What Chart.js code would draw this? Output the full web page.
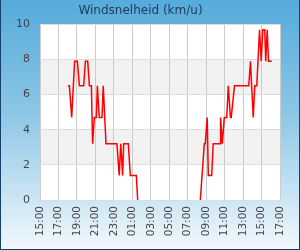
<!DOCTYPE html>
<html>
<head>
<meta charset="utf-8">
<script src="https://cdn.jsdelivr.net/npm/chart.js@4.4.1/dist/chart.umd.min.js"></script>
<style>
  html, body { margin: 0; padding: 0; }
  #wrap {
    width: 300px; height: 250px; box-sizing: border-box;
    border: 1px solid #15416b; border-top: none;
    background: linear-gradient(to bottom, #55abdb 0%, #8cc6e6 45%, #f1f8fc 100%);
  }
  #chart { display: block; }
</style>
</head>
<body>
<div id="wrap"><canvas id="chart" width="298" height="249"></canvas></div>
<script>
// minutes since 15:00 on day one, wind speed in km/u (null = no data)
const minutes = [182, 191, 206, 225, 243, 256, 284, 295, 310, 321, 334, 342, 353, 366, 373,
  385, 403, 411, 429, 500, 515, 525, 537, 544, 574, 587, 626, 635, 800,
  1042, 1068, 1074, 1087, 1094, 1116, 1126, 1170, 1174, 1185, 1198, 1214, 1224, 1238, 1243,
  1264, 1357, 1368, 1386, 1396, 1409, 1427, 1438, 1448, 1461, 1467, 1477, 1485, 1506];
const speeds = [6.5, 6.5, 4.7, 7.9, 7.9, 6.5, 6.5, 7.9, 7.9, 6.5, 6.5, 3.2, 4.7, 4.7, 6.5,
  4.7, 4.7, 6.5, 3.2, 3.2, 1.4, 3.2, 1.4, 3.2, 3.2, 1.4, 1.4, 0, null,
  0, 3.2, 3.2, 4.7, 1.4, 1.4, 3.2, 3.2, 4.7, 3.2, 4.7, 4.7, 6.5, 4.7, 4.7,
  6.5, 6.5, 7.9, 4.7, 6.5, 6.5, 9.7, 7.9, 9.7, 9.7, 7.9, 9.7, 7.9, 7.9];
const startHour = 15;
const yTicks = [0, 2, 4, 6, 8, 10];

// Background bands in the plot area
const bands = {
  id: 'bands',
  beforeDraw(chart) {
    const { ctx, chartArea: a, scales } = chart;
    ctx.save();
    ctx.fillStyle = '#ffffff';
    ctx.fillRect(a.left, a.top, a.right - a.left, a.bottom - a.top);
    ctx.fillStyle = '#f2f2f2';
    for (let i = 1; i < yTicks.length - 1; i += 2) {
      const y1 = scales.y.getPixelForValue(yTicks[i + 1]);
      const y0 = scales.y.getPixelForValue(yTicks[i]);
      ctx.fillRect(a.left, y1, a.right - a.left, y0 - y1);
    }
    ctx.restore();
  }
};

new Chart(document.getElementById('chart'), {
  type: 'line',
  data: {
    datasets: [{
      data: minutes.map((m, i) => ({ x: m, y: speeds[i] })),
      borderColor: '#ff0000',
      borderWidth: 1.5,
      pointRadius: 0,
      tension: 0,
      spanGaps: false
    }]
  },
  options: {
    responsive: false,
    animation: false,
    layout: { padding: { left: 0, right: 19, top: 0, bottom: 0 } },
    plugins: {
      legend: { display: false },
      tooltip: { enabled: false },
      title: {
        display: true,
        text: 'Windsnelheid (km/u)',
        color: '#1e3a58',
        font: { family: 'DejaVu Sans', size: 12, weight: 'normal' },
        padding: { top: 4, bottom: 6 }
      }
    },
    scales: {
      x: {
        type: 'linear',
        min: 0,
        max: 1560,
        afterFit(scale) { scale.height = 49; },
        grid: { color: '#cccccc', drawTicks: false },
        border: { display: false },
        ticks: {
          stepSize: 120,
          autoSkip: false,
          minRotation: 90,
          maxRotation: 90,
          padding: 6,
          color: '#444444',
          font: { family: 'DejaVu Sans', size: 10.5 },
          callback: v => String((startHour + v / 60) % 24).padStart(2, '0') + ':00'
        }
      },
      y: {
        min: 0,
        max: 10,
        afterFit(scale) { scale.width = 39; },
        grid: { color: '#dddddd', drawTicks: false },
        border: { display: false },
        ticks: {
          stepSize: 2,
          padding: 10,
          color: '#444444',
          font: { family: 'DejaVu Sans', size: 11 }
        }
      }
    }
  },
  plugins: [bands]
});
</script>
</body>
</html>
